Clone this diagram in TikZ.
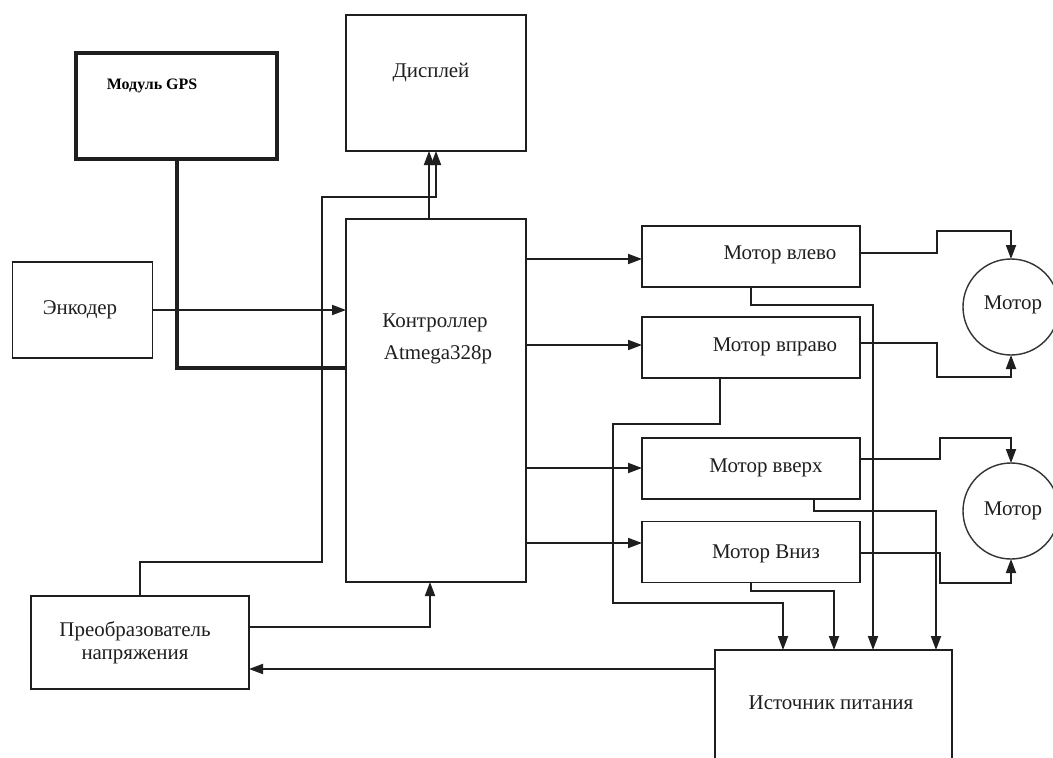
\documentclass[tikz,border=0pt]{standalone}
\usepackage{fontspec}
\setmainfont{Liberation Serif}
\usetikzlibrary{arrows.meta}
\begin{document}
\begin{tikzpicture}[x=1bp,y=-1bp,
  ln/.style={draw=black!88, line width=1.9bp},
  arr/.style={ln, -{Triangle[length=14bp,width=10bp]}},
  blk/.style={draw=black!88, line width=1.9bp, rectangle, inner sep=0pt, outer sep=0pt},
  rnd/.style={draw=black!80, line width=1.4bp, circle, minimum size=96bp, inner sep=0pt, outer sep=0pt},
  txt/.style={font=\fontsize{21}{23}\selectfont, inner sep=0pt, text=black!88},
  gpstxt/.style={font=\bfseries\fontsize{16}{18}\selectfont, inner sep=0pt, text=black}
]
\useasboundingbox (0,0) rectangle (1053,758);
\fill[white] (0,0) rectangle (1053,758);

% blocks
\node[blk, line width=3.6bp, minimum width=201bp, minimum height=106bp] (gps) at (176.5,106) {};
\node[gpstxt] (gpsl) at (152,86) {Модуль GPS};
\node[blk, minimum width=180bp, minimum height=136bp] (disp) at (436,83) {};
\node[txt] (displ) at (431,73) {Дисплей};
\node[blk, minimum width=140bp, minimum height=96bp] (enc) at (82.5,310) {};
\node[txt] (encl) at (80,310) {Энкодер};
\node[blk, minimum width=180bp, minimum height=363bp] (ctrl) at (436,400.5) {};
\node[txt] (ctrll1) at (435,323) {Контроллер};
\node[txt] (ctrll2) at (438,355) {Atmega328p};
\node[blk, line width=2.6bp, minimum width=218bp, minimum height=93bp] (conv) at (140,642.5) {};
\node[txt, align=center] (convl) at (135,642.5) {Преобразователь\\напряжения};
\node[blk, minimum width=218bp, minimum height=61bp] (ml) at (751,256.5) {};
\node[txt] (mll) at (780,255) {Мотор влево};
\node[blk, minimum width=218bp, minimum height=61bp] (mr) at (751,347.5) {};
\node[txt] (mrl) at (775,347) {Мотор вправо};
\node[blk, minimum width=218bp, minimum height=61bp] (mu) at (751,468.5) {};
\node[txt] (mul) at (766,468) {Мотор вверх};
\node[blk, minimum width=218bp, minimum height=61bp] (md) at (751,552) {};
\node[txt] (mdl) at (766,554) {Мотор Вниз};
\node[rnd] (m1) at (1011,307) {};
\node[txt] (m1l) at (1013,305) {Мотор};
\node[rnd] (m2) at (1011,511) {};
\node[txt] (m2l) at (1013,511) {Мотор};
\node[blk, minimum width=237bp, minimum height=130bp] (ps) at (833.5,715) {};
\node[txt] (psl) at (831,703) {Источник питания};

% helper coordinates
\coordinate (g1) at (177,368);
\coordinate (d1) at (429,0);
\coordinate (d2) at (436,0);
\coordinate (c1) at (140,562);
\coordinate (c2) at (322,197);
\coordinate (c3) at (430,0);
\coordinate (c4) at (0,627);
\coordinate (p0) at (0,669);
\coordinate (y1) at (0,259);
\coordinate (y2) at (0,345);
\coordinate (y3) at (0,468);
\coordinate (y4) at (0,543);
\coordinate (q1) at (0,253);
\coordinate (q2) at (937,231);
\coordinate (q3) at (0,343);
\coordinate (q4) at (937,377);
\coordinate (q5) at (0,459);
\coordinate (q6) at (940,438);
\coordinate (q7) at (0,553);
\coordinate (q8) at (940,583);
\coordinate (r1) at (873,305);
\coordinate (r2) at (720,424);
\coordinate (r3) at (613,603);
\coordinate (r4) at (783,0);
\coordinate (r5) at (814,511);
\coordinate (r6) at (936,0);
\coordinate (r7) at (834,591);

% connectors
\draw[arr] (enc.east) -- (enc.east -| ctrl.west);
\draw[ln, line width=4bp] (gps.south) |- (g1 -| ctrl.west);
\draw[arr] (d1 |- ctrl.north) -- (d1 |- disp.south);
\draw[arr] (conv.north) -- (c1) -| (c2) -| (d2 |- disp.south);
\draw[arr] (conv.east |- c4) -| (c3 |- ctrl.south);
\draw[arr] (ps.west |- p0) -- (conv.east |- p0);

\draw[arr] (ctrl.east |- y1) -- (ml.west |- y1);
\draw[arr] (ctrl.east |- y2) -- (mr.west |- y2);
\draw[arr] (ctrl.east |- y3) -- (mu.west |- y3);
\draw[arr] (ctrl.east |- y4) -- (md.west |- y4);

\draw[arr] (ml.east |- q1) -| (q2) -| (m1.north);
\draw[arr] (mr.east |- q3) -| (q4) -| (m1.south);
\draw[arr] (mu.east |- q5) -| (q6) -| (m2.north);
\draw[arr] (md.east |- q7) -| (q8) -| (m2.south);

\draw[arr] (ml.south) |- (r1) -- (r1 |- ps.north);
\draw[arr] (r2 |- mr.south) -- (r2) -| (r3) -| (r4 |- ps.north);
\draw[arr] (r5 |- mu.south) -- (r5) -| (r6 |- ps.north);
\draw[arr] (md.south) |- (r7) -- (r7 |- ps.north);
\end{tikzpicture}
\end{document}
